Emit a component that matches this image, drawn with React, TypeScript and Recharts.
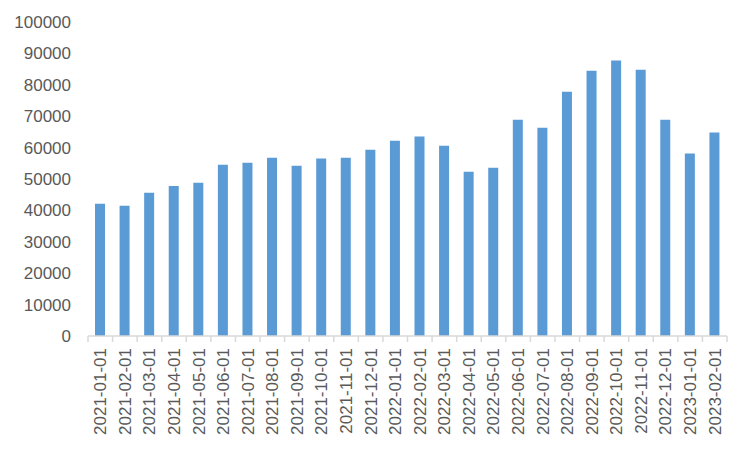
import { BarChart, Bar, XAxis, YAxis } from 'recharts';

const months = [
  '2021-01-01', '2021-02-01', '2021-03-01', '2021-04-01', '2021-05-01', '2021-06-01',
  '2021-07-01', '2021-08-01', '2021-09-01', '2021-10-01', '2021-11-01', '2021-12-01',
  '2022-01-01', '2022-02-01', '2022-03-01', '2022-04-01', '2022-05-01', '2022-06-01',
  '2022-07-01', '2022-08-01', '2022-09-01', '2022-10-01', '2022-11-01', '2022-12-01',
  '2023-01-01', '2023-02-01',
];

const values = [
  42100, 41500, 45600, 47800, 48800, 54500,
  55200, 56800, 54200, 56500, 56800, 59300,
  62200, 63500, 60600, 52300, 53600, 68900,
  66300, 77800, 84500, 87700, 84800, 68900,
  58100, 64800,
];

const yTicks = [0, 10000, 20000, 30000, 40000, 50000, 60000, 70000, 80000, 90000, 100000];

const data = months.map((name, i) => ({ name, value: values[i] }));

const textColor = '#595959';
const axisColor = '#d9d9d9';
const font = '"Liberation Sans", Arial, sans-serif';

const MonthTick = (props: any) => {
  const { x, y, payload, index } = props;
  const half = payload.offset || 12.3;
  const top = y;
  return (
    <g>
      <line x1={x - half} y1={top} x2={x - half} y2={top + 6} stroke={axisColor} strokeWidth={1.5} />
      {index === months.length - 1 && (
        <line x1={x + half} y1={top} x2={x + half} y2={top + 6} stroke={axisColor} strokeWidth={1.5} />
      )}
      <text
        x={x}
        y={top + 12}
        transform={`rotate(-90, ${x}, ${top + 12})`}
        textAnchor="end"
        dy="0.35em"
        fill={textColor}
        fontSize={17}
        fontFamily={font}
      >
        {payload.value}
      </text>
    </g>
  );
};

const App = () => (
  <div style={{ position: 'absolute', left: 0, top: 0 }}>
    <BarChart
      width={750}
      height={450}
      data={data}
      margin={{ top: 22, right: 23, bottom: 0, left: 0 }}
      barSize={10}
    >
      <XAxis
        dataKey="name"
        interval={0}
        height={114}
        tickLine={false}
        tickSize={0}
        tickMargin={0}
        axisLine={{ stroke: axisColor, strokeWidth: 1.5 }}
        tick={<MonthTick />}
      />
      <YAxis
        width={88}
        domain={[0, 100000]}
        ticks={yTicks}
        interval={0}
        axisLine={false}
        tickLine={false}
        tickSize={0}
        tickMargin={17}
        tick={{ fill: textColor, fontSize: 17, fontFamily: font }}
      />
      <Bar dataKey="value" fill="#5b9bd5" isAnimationActive={false} />
    </BarChart>
  </div>
);

export default App;
